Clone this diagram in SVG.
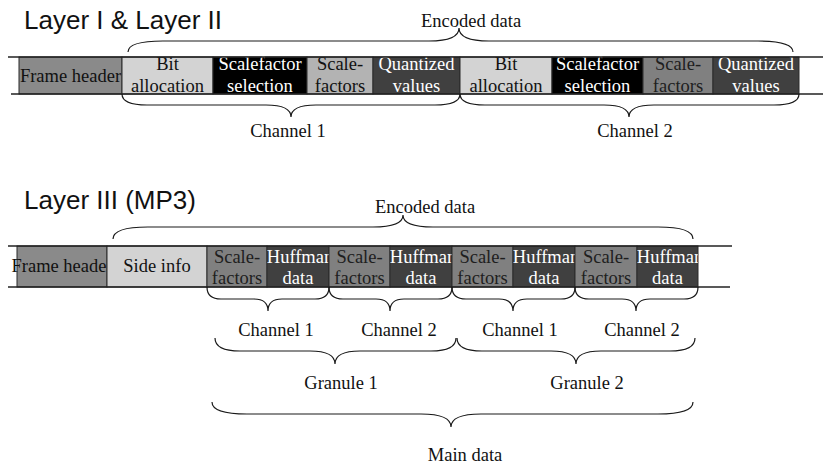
<svg xmlns="http://www.w3.org/2000/svg" width="823" height="464" viewBox="0 0 823 464">
  <style>
    .title { font-family: "Liberation Sans", Arial, sans-serif; font-size: 26px; fill: #111; }
    .lbl { font-family: "Liberation Serif", "Times New Roman", serif; font-size: 18.5px; fill: #111; text-anchor: middle; }
    .w { fill: #fff; }
    .g { fill: #1e1e1e; }
    .box { stroke: #2a2a2a; stroke-width: 1; }
    .hdr { fill: #8a8a8a; }
    .light { fill: #d3d3d3; }
    .black { fill: #000; }
    .mid { fill: #b3b3b3; }
    .gray { fill: #808080; }
    .dark { fill: #404040; }
    .rail { stroke: #222; stroke-width: 1.3; fill: none; }
    .brace { stroke: #1a1a1a; stroke-width: 1.2; fill: none; }
  </style>
  <defs>
    <clipPath id="clipH1"><rect x="267" y="246" width="62" height="41"/></clipPath>
    <clipPath id="clipH2"><rect x="390" y="246" width="62" height="41"/></clipPath>
    <clipPath id="clipH3"><rect x="513" y="246" width="62" height="41"/></clipPath>
    <clipPath id="clipH4"><rect x="637" y="246" width="61" height="41"/></clipPath>
  </defs>

  <rect width="823" height="464" fill="#fff"/>

  <!-- section titles -->
  <text class="title" x="24" y="29">Layer I &amp; Layer II</text>
  <text class="title" x="24" y="209">Layer III (MP3)</text>

  <!-- Layer I / II frame -->
  <g id="l12-frame-header">
    <rect class="box hdr" x="19" y="57" width="103" height="37"/>
    <text class="lbl" x="70.5" y="82">Frame header</text>
  </g>
  <g id="l12-ch1-bit-allocation">
    <rect class="box light" x="122" y="57" width="91" height="37"/>
    <text class="lbl" x="167.5" y="70">Bit</text>
    <text class="lbl" x="167.5" y="92">allocation</text>
  </g>
  <g id="l12-ch1-scalefactor-selection">
    <rect class="box black" x="213" y="57" width="94" height="37"/>
    <text class="lbl w" x="260" y="70">Scalefactor</text>
    <text class="lbl w" x="260" y="92">selection</text>
  </g>
  <g id="l12-ch1-scalefactors">
    <rect class="box mid" x="307" y="57" width="66" height="37"/>
    <text class="lbl" x="340" y="70">Scale-</text>
    <text class="lbl" x="340" y="92">factors</text>
  </g>
  <g id="l12-ch1-quantized-values">
    <rect class="box dark" x="373" y="57" width="87" height="37"/>
    <text class="lbl w" x="416.5" y="70">Quantized</text>
    <text class="lbl w" x="416.5" y="92">values</text>
  </g>
  <g id="l12-ch2-bit-allocation">
    <rect class="box light" x="460" y="57" width="92" height="37"/>
    <text class="lbl" x="506" y="70">Bit</text>
    <text class="lbl" x="506" y="92">allocation</text>
  </g>
  <g id="l12-ch2-scalefactor-selection">
    <rect class="box black" x="552" y="57" width="91" height="37"/>
    <text class="lbl w" x="597.5" y="70">Scalefactor</text>
    <text class="lbl w" x="597.5" y="92">selection</text>
  </g>
  <g id="l12-ch2-scalefactors">
    <rect class="box gray" x="643" y="57" width="70" height="37"/>
    <text class="lbl g" x="678" y="70">Scale-</text>
    <text class="lbl g" x="678" y="92">factors</text>
  </g>
  <g id="l12-ch2-quantized-values">
    <rect class="box dark" x="713" y="57" width="86" height="37"/>
    <text class="lbl w" x="756" y="70">Quantized</text>
    <text class="lbl w" x="756" y="92">values</text>
  </g>

  <!-- Layer III frame -->
  <g id="l3-frame-header">
    <rect class="box hdr" x="17" y="246" width="90" height="41"/>
    <text class="lbl" x="59" y="272">Frame heade</text>
  </g>
  <g id="l3-side-info">
    <rect class="box light" x="107" y="246" width="100" height="41"/>
    <text class="lbl" x="157" y="272">Side info</text>
  </g>
  <g id="l3-g1-ch1-scalefactors">
    <rect class="box gray" x="207" y="246" width="60" height="41"/>
    <text class="lbl g" x="237" y="263">Scale-</text>
    <text class="lbl g" x="237" y="284">factors</text>
  </g>
  <g id="l3-g1-ch1-huffman">
    <rect class="box dark" x="267" y="246" width="62" height="41"/>
    <text class="lbl w" x="300" y="263" clip-path="url(#clipH1)">Huffman</text>
    <text class="lbl w" x="298" y="284">data</text>
  </g>
  <g id="l3-g1-ch2-scalefactors">
    <rect class="box gray" x="329" y="246" width="61" height="41"/>
    <text class="lbl g" x="359.5" y="263">Scale-</text>
    <text class="lbl g" x="359.5" y="284">factors</text>
  </g>
  <g id="l3-g1-ch2-huffman">
    <rect class="box dark" x="390" y="246" width="62" height="41"/>
    <text class="lbl w" x="423" y="263" clip-path="url(#clipH2)">Huffman</text>
    <text class="lbl w" x="421" y="284">data</text>
  </g>
  <g id="l3-g2-ch1-scalefactors">
    <rect class="box gray" x="452" y="246" width="61" height="41"/>
    <text class="lbl g" x="482.5" y="263">Scale-</text>
    <text class="lbl g" x="482.5" y="284">factors</text>
  </g>
  <g id="l3-g2-ch1-huffman">
    <rect class="box dark" x="513" y="246" width="62" height="41"/>
    <text class="lbl w" x="546" y="263" clip-path="url(#clipH3)">Huffman</text>
    <text class="lbl w" x="544" y="284">data</text>
  </g>
  <g id="l3-g2-ch2-scalefactors">
    <rect class="box gray" x="575" y="246" width="62" height="41"/>
    <text class="lbl g" x="606" y="263">Scale-</text>
    <text class="lbl g" x="606" y="284">factors</text>
  </g>
  <g id="l3-g2-ch2-huffman">
    <rect class="box dark" x="637" y="246" width="61" height="41"/>
    <text class="lbl w" x="670" y="263" clip-path="url(#clipH4)">Huffman</text>
    <text class="lbl w" x="667.5" y="284">data</text>
  </g>

  <!-- bitstream rails and grouping braces -->
  <g id="connectors">
    <line class="rail" x1="8" y1="57" x2="823" y2="57"/>
    <line class="rail" x1="11" y1="94" x2="823" y2="94"/>
    <line class="rail" x1="8" y1="246" x2="732" y2="246"/>
    <line class="rail" x1="8" y1="287" x2="730" y2="287"/>

    <path class="brace" d="M128,52 Q128,41 163,41 L429,41 Q459,41 459,28 Q459,41 489,41 L758,41 Q793,41 793,52"/>
    <path class="brace" d="M122,94 Q122,105 147,105 L266,105 Q291,105 291,117 Q291,105 316,105 L435,105 Q460,105 460,94"/>
    <path class="brace" d="M460,94 Q460,105 485,105 L604,105 Q629,105 629,117 Q629,105 654,105 L774,105 Q799,105 799,94"/>

    <path class="brace" d="M113,239 Q113,227 148,227 L373,227 Q403,227 403,215 Q403,227 433,227 L658,227 Q693,227 693,239"/>
    <path class="brace" d="M207,287 Q207,299 221,299 L254,299 Q268,299 268,311 Q268,299 282,299 L315,299 Q329,299 329,287"/>
    <path class="brace" d="M329,287 Q329,299 343,299 L376,299 Q390,299 390,311 Q390,299 404,299 L438,299 Q452,299 452,287"/>
    <path class="brace" d="M452,287 Q452,299 466,299 L499,299 Q513,299 513,311 Q513,299 527,299 L561,299 Q575,299 575,287"/>
    <path class="brace" d="M575,287 Q575,299 589,299 L622,299 Q636,299 636,311 Q636,299 650,299 L684,299 Q698,299 698,287"/>
    <path class="brace" d="M215,338 Q215,351 240,351 L310,351 Q335,351 335,364 Q335,351 360,351 L431,351 Q456,351 456,338"/>
    <path class="brace" d="M457,338 Q457,351 482,351 L551,351 Q576,351 576,364 Q576,351 601,351 L670,351 Q695,351 695,338"/>
    <path class="brace" d="M212,402 Q212,414 247,414 L421,414 Q451,414 451,427 Q451,414 481,414 L658,414 Q693,414 693,402"/>
  </g>

  <!-- brace labels -->
  <g id="labels">
    <text class="lbl" x="421" y="27" text-anchor="start" style="text-anchor:start">Encoded data</text>
    <text class="lbl" x="288" y="137">Channel 1</text>
    <text class="lbl" x="635" y="137">Channel 2</text>
    <text class="lbl" x="375" y="213" style="text-anchor:start">Encoded data</text>
    <text class="lbl" x="276" y="336">Channel 1</text>
    <text class="lbl" x="399" y="336">Channel 2</text>
    <text class="lbl" x="520" y="336">Channel 1</text>
    <text class="lbl" x="642" y="336">Channel 2</text>
    <text class="lbl" x="341" y="389">Granule 1</text>
    <text class="lbl" x="587" y="389">Granule 2</text>
    <text class="lbl" x="465" y="461">Main data</text>
  </g>
</svg>
